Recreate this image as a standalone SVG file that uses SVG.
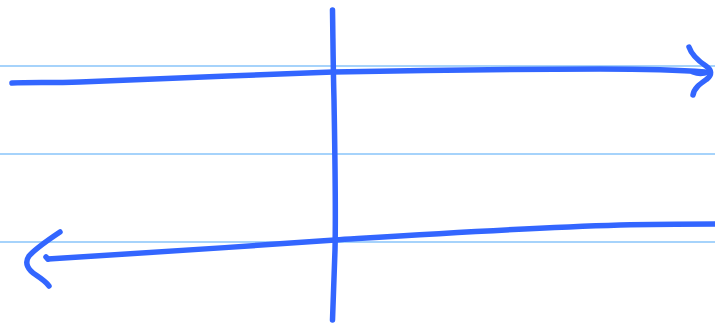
<svg xmlns="http://www.w3.org/2000/svg" width="715" height="324" viewBox="0 0 715 324">
<style>
.guide{stroke:#a6d3fb;stroke-width:2;fill:none}
.ink{stroke:#3366ff;stroke-width:5.5;fill:none;stroke-linecap:round;stroke-linejoin:round}
</style>
<rect width="715" height="324" fill="#ffffff"/>
<g id="guides">
<line class="guide" x1="0" y1="66" x2="715" y2="66"/>
<line class="guide" x1="0" y1="154" x2="715" y2="154"/>
<line class="guide" x1="0" y1="242" x2="715" y2="242"/>
</g>
<g id="axis">
<path class="ink" d="M332.5,10 C333,40 333,60 334,100 C335,160 336,210 335,250 C334,280 333,300 332.5,320"/>
</g>
<g id="connectors">
<path class="ink" d="M12,83 C30,82 50,83 80,82 C160,79 250,75 333,72 C430,70 520,69 600,69 C650,69 680,70 705,72"/>
<path class="ink" d="M689,47 C692,56 700,62 706,66 C712,70 712,75 707,79 C700,84 694,88 693,95"/>
<path class="ink" d="M693,72 C698,74 703,74 708,72"/>
<path class="ink" d="M716,224 C690,224 660,224 620,225 C520,228 430,234 335,240 C240,247 140,253 48,259"/>
<path class="ink" d="M48,259 L46,257"/>
<path class="ink" d="M60,232 C48,240 36,248 29,256 C24,263 28,270 36,275 C42,279 47,283 49,286"/>
</g>
</svg>
